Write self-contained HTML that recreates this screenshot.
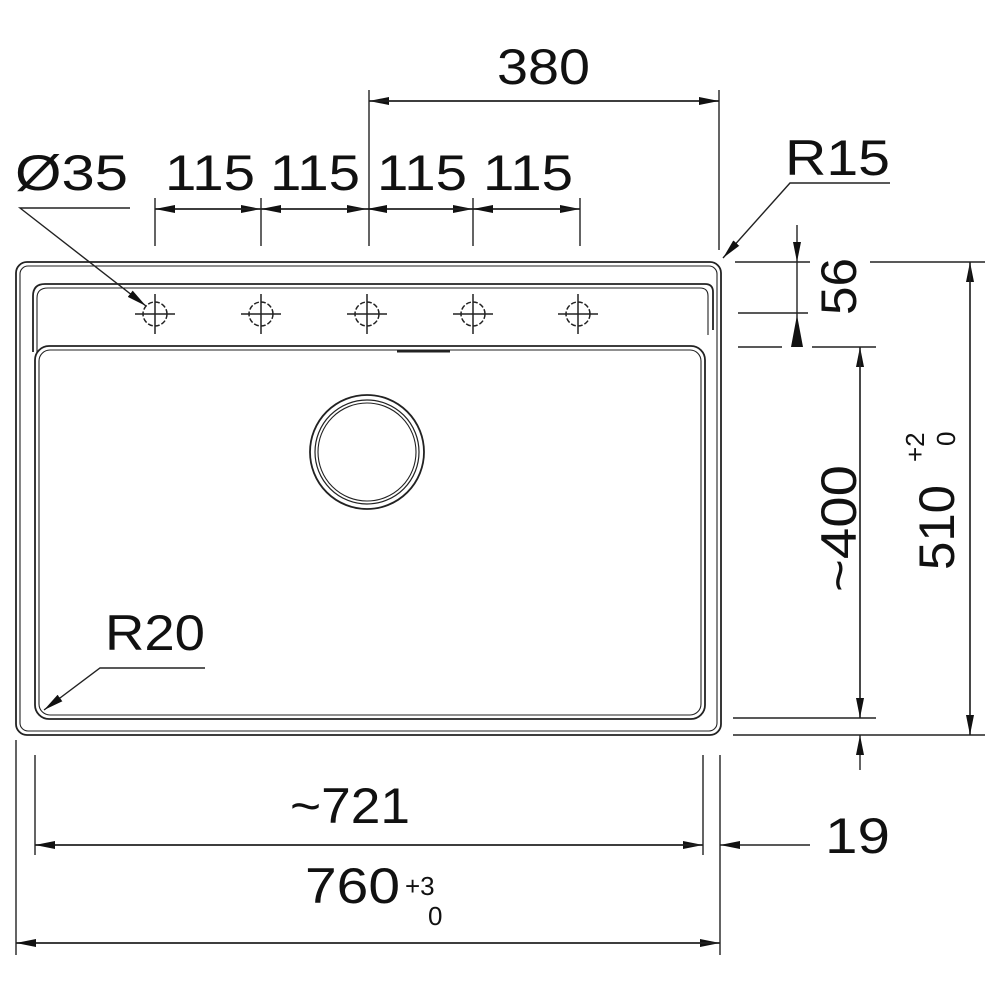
<!DOCTYPE html>
<html><head><style>body{margin:0;background:#fff}svg{display:block}text{font-family:"Liberation Sans",Arial,sans-serif;fill:#111}</style></head>
<body>
<svg width="1000" height="1000" viewBox="0 0 1000 1000" xmlns="http://www.w3.org/2000/svg">
<defs>
<marker id="a" viewBox="0 0 20 10" refX="20" refY="5" markerWidth="20" markerHeight="10" markerUnits="userSpaceOnUse" orient="auto"><path d="M0,1 L20,5 L0,9 Z" fill="#111"/></marker>
</defs>
<g fill="none" stroke="#222" stroke-width="1.8">
<rect x="16" y="262" width="705" height="473" rx="11"/>
<rect x="20" y="266" width="697" height="465" rx="8" stroke-width="1.1"/>
<path d="M33,352 V296 Q33,284 45,284 H705 Q713,284 713,292 V330"/>
<path d="M37,352 V298 Q37,288 48,288 H700 Q708,288 708,296 V335" stroke-width="1.1"/>
<rect x="35" y="346" width="670" height="373" rx="14"/>
<rect x="39" y="350" width="662" height="365" rx="11" stroke-width="1.1"/>
<line x1="397" y1="351" x2="450" y2="351" stroke-width="3"/>
<circle cx="367" cy="452" r="57"/>
<circle cx="367" cy="452" r="52" stroke-width="1.2"/>
<circle cx="367" cy="452" r="49" stroke-width="1.1"/>
<g stroke-width="1.5">
<g transform="translate(155,314)"><circle r="12" stroke-dasharray="5 2"/><path d="M-20,0H20M0,-20V20"/></g>
<g transform="translate(261,314)"><circle r="12" stroke-dasharray="5 2"/><path d="M-20,0H20M0,-20V20"/></g>
<g transform="translate(367,314)"><circle r="12" stroke-dasharray="5 2"/><path d="M-20,0H20M0,-20V20"/></g>
<g transform="translate(473,314)"><circle r="12" stroke-dasharray="5 2"/><path d="M-20,0H20M0,-20V20"/></g>
<g transform="translate(578,314)"><circle r="12" stroke-dasharray="5 2"/><path d="M-20,0H20M0,-20V20"/></g>
</g>
</g>
<g fill="none" stroke="#222" stroke-width="1.4">
<line x1="369" y1="90" x2="369" y2="246"/><line x1="719" y1="90" x2="719" y2="250"/>
<line x1="719" y1="101" x2="369" y2="101" marker-end="url(#a)"/><line x1="369" y1="101" x2="719" y2="101" marker-end="url(#a)"/>
<line x1="155" y1="198" x2="155" y2="246"/><line x1="261" y1="198" x2="261" y2="246"/><line x1="473" y1="198" x2="473" y2="246"/><line x1="580" y1="198" x2="580" y2="246"/>
<line x1="155" y1="209" x2="261" y2="209" marker-end="url(#a)"/><line x1="261" y1="209" x2="155" y2="209" marker-end="url(#a)"/>
<line x1="261" y1="209" x2="367" y2="209" marker-end="url(#a)"/><line x1="367" y1="209" x2="261" y2="209" marker-end="url(#a)"/>
<line x1="367" y1="209" x2="473" y2="209" marker-end="url(#a)"/><line x1="473" y1="209" x2="367" y2="209" marker-end="url(#a)"/>
<line x1="473" y1="209" x2="580" y2="209" marker-end="url(#a)"/><line x1="580" y1="209" x2="473" y2="209" marker-end="url(#a)"/>
<path d="M130,208 H20 L146,306" marker-end="url(#a)"/>
<path d="M890,183 H790 L723,258" marker-end="url(#a)"/>
<path d="M205,668 H100 L44,710" marker-end="url(#a)"/>
<line x1="735" y1="262" x2="810" y2="262"/><line x1="870" y1="262" x2="985" y2="262"/>
<line x1="738" y1="313" x2="808" y2="313"/>
<line x1="738" y1="347" x2="782" y2="347"/><line x1="812" y1="347" x2="876" y2="347"/>
<line x1="797" y1="225" x2="797" y2="262" marker-end="url(#a)"/>
<line x1="797" y1="262" x2="797" y2="347"/>
<line x1="733" y1="718" x2="876" y2="718"/>
<line x1="733" y1="735" x2="985" y2="735"/>
<line x1="860" y1="718" x2="860" y2="347" marker-end="url(#a)"/>
<line x1="860" y1="347" x2="860" y2="718" marker-end="url(#a)"/>
<line x1="860" y1="770" x2="860" y2="735" marker-end="url(#a)"/>
<line x1="970" y1="735" x2="970" y2="262" marker-end="url(#a)"/>
<line x1="970" y1="262" x2="970" y2="735" marker-end="url(#a)"/>
<line x1="35" y1="755" x2="35" y2="855"/><line x1="703" y1="755" x2="703" y2="855"/>
<line x1="720" y1="755" x2="720" y2="955"/><line x1="16" y1="740" x2="16" y2="955"/>
<line x1="35" y1="845" x2="703" y2="845" marker-end="url(#a)"/><line x1="703" y1="845" x2="35" y2="845" marker-end="url(#a)"/>
<line x1="810" y1="845" x2="720" y2="845" marker-end="url(#a)"/>
<line x1="16" y1="943" x2="720" y2="943" marker-end="url(#a)"/><line x1="720" y1="943" x2="16" y2="943" marker-end="url(#a)"/>
</g>
<path d="M791,347 L797,315 L803,347 Z" fill="#111"/>
<g font-size="50">
<text x="497" y="84" textLength="93" lengthAdjust="spacingAndGlyphs">380</text>
<text x="165" y="190" textLength="90" lengthAdjust="spacingAndGlyphs">115</text>
<text x="270" y="190" textLength="90" lengthAdjust="spacingAndGlyphs">115</text>
<text x="377" y="190" textLength="90" lengthAdjust="spacingAndGlyphs">115</text>
<text x="483" y="190" textLength="90" lengthAdjust="spacingAndGlyphs">115</text>
<text x="15" y="190" textLength="113" lengthAdjust="spacingAndGlyphs">Ø35</text>
<text x="785" y="175" textLength="105" lengthAdjust="spacingAndGlyphs">R15</text>
<text x="105" y="650" textLength="100" lengthAdjust="spacingAndGlyphs">R20</text>
<text x="290" y="823" textLength="120" lengthAdjust="spacingAndGlyphs">~721</text>
<text x="825" y="853" textLength="65" lengthAdjust="spacingAndGlyphs">19</text>
<text x="305" y="903" textLength="95" lengthAdjust="spacingAndGlyphs">760</text>
<g transform="translate(856,315) rotate(-90)"><text x="0" y="0" textLength="57" lengthAdjust="spacingAndGlyphs">56</text></g>
<g transform="translate(856,592) rotate(-90)"><text x="0" y="0" textLength="127" lengthAdjust="spacingAndGlyphs">~400</text></g>
<g transform="translate(954,570) rotate(-90)"><text x="0" y="0" textLength="85" lengthAdjust="spacingAndGlyphs">510</text></g>
</g>
<g font-size="26">
<text x="405" y="895">+3</text><text x="428" y="925">0</text>
<g transform="translate(924,462) rotate(-90)"><text x="0" y="0">+2</text></g>
<g transform="translate(955,446) rotate(-90)"><text x="0" y="0">0</text></g>
</g>
</svg>
</body></html>
